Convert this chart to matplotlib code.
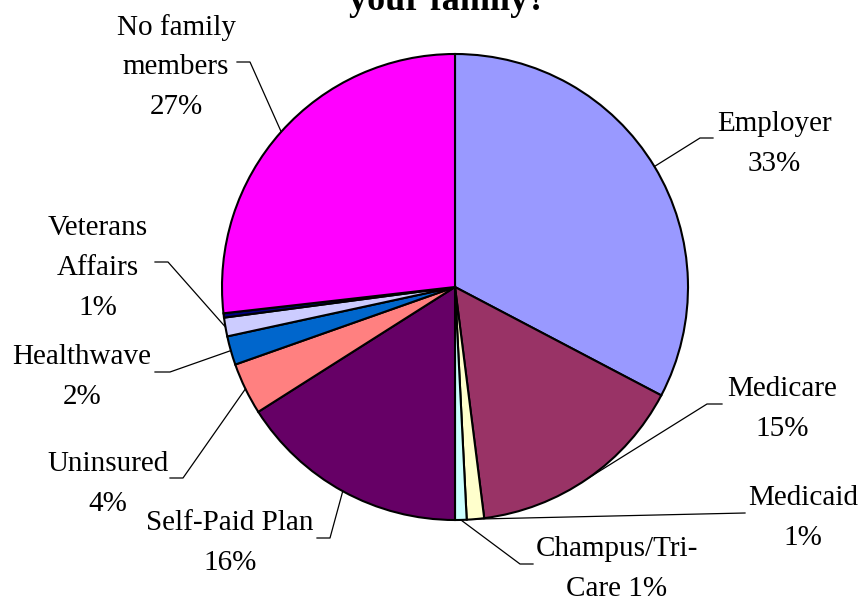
import matplotlib.pyplot as plt
import numpy as np

plt.rcParams['font.family'] = ['Liberation Serif', 'DejaVu Serif']

# pie data (clockwise from 12 o'clock)
names = ["Employer\n", "Medicare\n", "Medicaid\n", "Champus/Tri-\nCare ", "Self-Paid Plan\n",
         "Uninsured\n", "Healthwave\n", "Veterans\nAffairs\n", "", "No family\nmembers\n"]
values = [32.7, 15.3, 1.2, 0.8, 16.0, 3.6, 2.0, 1.3, 0.3, 26.8]
colors = ["#9999FF", "#993366", "#FFFFCC", "#CCFFFF", "#660066",
          "#FF8080", "#0066CC", "#CCCCFF", "#000080", "#FF00FF"]

# label centre and leader elbow / end (pixel coords, top-left origin)
label_pos = [(774, 144), (782, 409), (803, 518), (617, 569), (230, 543),
             (108, 484), (82, 377), (98, 268), None, (176, 67)]
elbows = [((700, 138), (713, 138)), ((707, 404), (722, 404)), ((745, 513), (745, 513)),
          ((520, 564), (533, 564)), ((330, 538), (317, 538)), ((183, 478), (170, 478)),
          ((170, 372), (155, 372)), ((168, 262), (155, 262)), None, ((250, 62), (237, 62))]

W, H = 863, 602
fig = plt.figure(figsize=(W / 100, H / 100), dpi=100)
ax = fig.add_axes([0, 0, 1, 1])

cx, cy, r = 455, H - 287, 233
wedges, _ = ax.pie(values, colors=colors, startangle=90, counterclock=False,
                   center=(cx, cy), radius=r,
                   wedgeprops=dict(edgecolor="black", linewidth=1.5))
ax.set_xlim(0, W)
ax.set_ylim(0, H)
ax.set_aspect("equal")
ax.axis("off")

for w, name, v, pos, el in zip(wedges, names, values, label_pos, elbows):
    if pos is None:
        continue
    ang = np.deg2rad((w.theta1 + w.theta2) / 2)
    sx, sy = cx + r * np.cos(ang), cy + r * np.sin(ang)
    (ex, ey), (hx, hy) = el
    ax.plot([sx, ex, hx], [sy, H - ey, H - hy], color="black", lw=0.9)
    ax.text(pos[0], H - pos[1], name + f"{v:.0f}%", ha="center", va="center",
            multialignment="center", fontsize=21, linespacing=1.68)

ax.text(448, H - 10, "your family?", ha="center", va="baseline",
        fontsize=26, fontweight="bold")

fig.savefig("out.png", dpi=100)
